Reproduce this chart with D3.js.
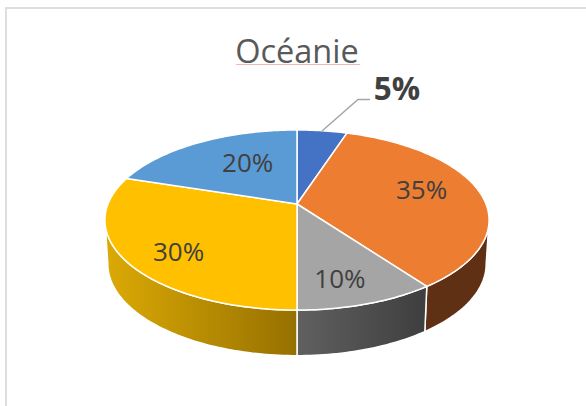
<!doctype html>
<html lang="fr">
<head>
<meta charset="UTF-8">
<script src="https://d3js.org/d3.v7.min.js"></script>
<title>Océanie</title>
<style>
    html, body { margin: 0; padding: 0; background: #fff; }
    svg { display: block; }
    text { font-family: "Open Sans", "Noto Sans", sans-serif; }
</style>
</head>
<body>
<div class="container"></div>
<script>
    const title = "Océanie";
    const categories = ["A", "B", "C", "D", "E"];
    const values = [5, 35, 10, 30, 20];
    const colors = ["#4472c4", "#ed7d31", "#a5a5a5", "#ffc000", "#5b9bd5"];

    const width = 586, height = 406;
    const cx = 297, cy = 204;     // apex of the top face
    const persp = 0.178;          // perspective of the disc
    const rx = 189, ry = 87.2;
    const depth = 45;

    const svg = d3.select(".container").append("svg")
        .attr("width", width).attr("height", height);

    // frame of the copied chart, only top and left show
    svg.append("path")
        .attr("d", "M6,406V8H586")
        .attr("fill", "none").attr("stroke", "#dedede").attr("stroke-width", 2);

    // tilted disc: angle + radius -> screen
    function project(a, r, bottom) {
        const u = Math.sin(a) * r, v = Math.cos(a) * r;
        const k = 1 / (1 + persp * v);
        return bottom
            ? [cx + rx * 0.985 * u * k, cy + depth - 1.5 - ry * 1.02 * v * k]
            : [cx + rx * u * k, cy - ry * v * k];
    }

    function arcPoints(a0, a1, bottom) {
        const n = Math.max(2, Math.ceil((a1 - a0) / 0.02));
        return d3.range(n + 1).map(i => project(a0 + (a1 - a0) * i / n, 1, bottom));
    }

    const line = d3.line();
    const slices = d3.pie().sort(null).value(d => d)(values);

    // gradients for the sides
    const defs = svg.append("defs");
    const sideStops = [["#5f3013", "#5f3013"], ["#606060", "#3e3e3e"], ["#dcaa05", "#967000"]];
    sideStops.forEach((s, i) => {
        const g = defs.append("linearGradient").attr("id", "side" + i);
        g.append("stop").attr("offset", 0).attr("stop-color", s[0]);
        g.append("stop").attr("offset", 1).attr("stop-color", s[1]);
    });

    // only the slices facing us have a visible wall, cut at the silhouette of the disc
    const tangent = Math.acos(-persp);
    const walls = [
        {i: 1, from: tangent},
        {i: 2},
        {i: 3, to: 2 * Math.PI - tangent}
    ];
    walls.forEach((w, n) => {
        const a0 = w.from !== undefined ? w.from : slices[w.i].startAngle;
        const a1 = w.to !== undefined ? w.to : slices[w.i].endAngle;
        const pts = arcPoints(a0, a1, false).concat(arcPoints(a0, a1, true).reverse());
        svg.append("path")
            .attr("d", line(pts) + "Z")
            .attr("fill", "url(#side" + n + ")")
            .attr("stroke", "#fff").attr("stroke-width", 1.5)
            .attr("stroke-linejoin", "round");
    });

    // top face
    svg.selectAll("path.slice")
        .data(slices)
        .enter().append("path")
        .attr("class", "slice")
        .attr("d", d => line([[cx, cy]].concat(arcPoints(d.startAngle, d.endAngle, false))) + "Z")
        .attr("fill", (d, i) => colors[i])
        .attr("stroke", "#fff").attr("stroke-width", 1.5)
        .attr("stroke-linejoin", "round");

    // title with the spell check line under it
    svg.append("text")
        .attr("x", 297).attr("y", 63)
        .attr("text-anchor", "middle")
        .attr("font-size", 32.5)
        .attr("fill", "#595959")
        .text(title);
    svg.append("line")
        .attr("x1", 236).attr("x2", 360).attr("y1", 64.5).attr("y2", 64.5)
        .attr("stroke", "#f4b6b6").attr("stroke-width", 1);

    // leader of the small slice
    svg.append("path")
        .attr("d", "M322,131L358,99.5H370")
        .attr("fill", "none").attr("stroke", "#a6a6a6").attr("stroke-width", 1.5);

    const labelNudge = [[0, 0], [0, -5], [-3.5, 9], [6, 6], [12, -2]];
    const labelRadius = [1, 0.68, 0.7, 0.75, 0.6];

    svg.selectAll("text.label")
        .data(slices)
        .enter().append("text")
        .attr("class", "label")
        .attr("transform", (d, i) => {
            if (i === 0) return "translate(397,100)";
            const p = project((d.startAngle + d.endAngle) / 2, labelRadius[i], false);
            return "translate(" + (p[0] + labelNudge[i][0]) + "," + (p[1] + labelNudge[i][1] + 9) + ")";
        })
        .attr("text-anchor", "middle")
        .attr("font-size", (d, i) => i === 0 ? 31.5 : 26)
        .attr("font-weight", (d, i) => i === 0 ? 700 : 400)
        .attr("fill", "#404040")
        .text(d => d.value + "%");
</script>
</body>
</html>
